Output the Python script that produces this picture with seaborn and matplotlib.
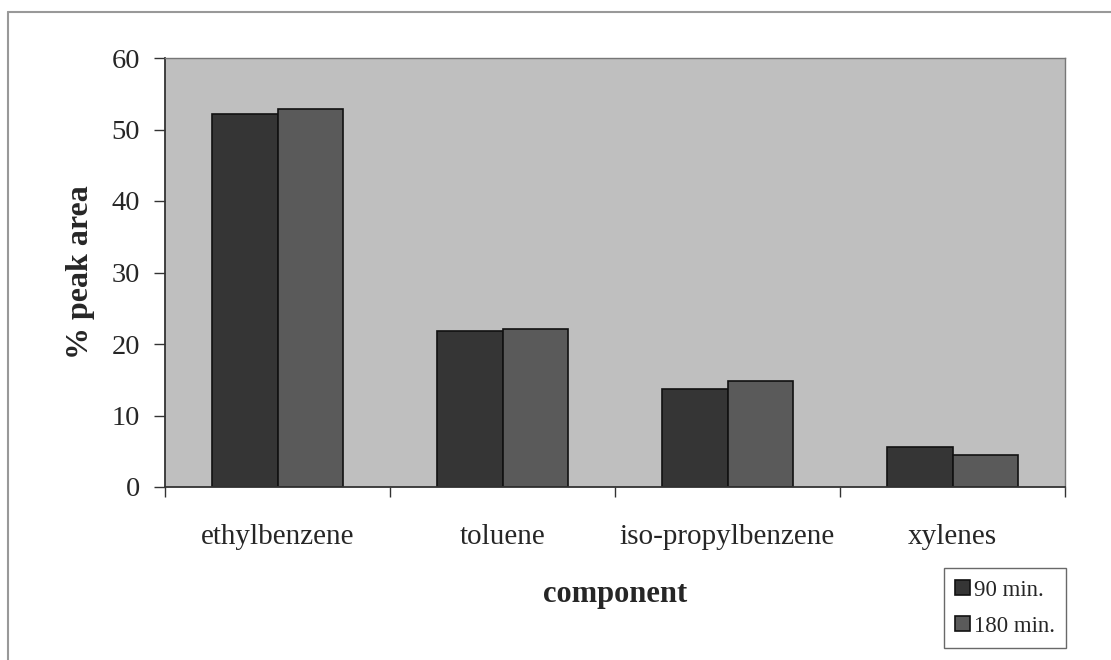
import matplotlib
matplotlib.use("Agg")
import matplotlib.pyplot as plt
import seaborn as sns
import pandas as pd
import numpy as np
from matplotlib.lines import Line2D

categories = ["ethylbenzene", "toluene", "iso-propylbenzene", "xylenes"]
series_names = ["90 min.", "180 min."]
values_90 = [52.2, 21.8, 13.7, 5.6]
values_180 = [52.9, 22.1, 14.8, 4.5]
y_ticks = [0, 10, 20, 30, 40, 50, 60]

df = pd.DataFrame({
    "component": categories * 2,
    "series": [series_names[0]] * len(categories) + [series_names[1]] * len(categories),
    "value": values_90 + values_180,
})

sns.set_theme(style="white")
plt.rcParams["font.family"] = ["Liberation Serif", "DejaVu Serif"]

fig = plt.figure(figsize=(11.11, 6.6), dpi=100)
ax = fig.add_axes([165 / 1111, 1 - 487 / 660, 900 / 1111, 429 / 660])
ax.set_facecolor("#bfbfbf")

palette = {"90 min.": "#353535", "180 min.": "#5a5a5a"}
sns.barplot(data=df, x="component", y="value", hue="series", order=categories,
            hue_order=series_names, palette=palette, width=0.58, dodge=True,
            edgecolor="#111111", linewidth=1.2, saturation=1, ax=ax, legend=True)

ax.set_xlim(-0.5, len(categories) - 0.5)
ax.set_ylim(0, 60)
ax.set_yticks(y_ticks)
ax.set_yticklabels([str(t) for t in y_ticks], fontsize=20.5)
ax.tick_params(axis="y", length=8, width=1, direction="out", pad=10, color="#333333", left=True)

ax.set_xticks(range(len(categories)))
ax.set_xticklabels(categories, fontsize=21)
ax.tick_params(axis="x", which="major", length=0, pad=27)
ax.set_xticks(np.arange(-0.5, len(categories), 1.0), minor=True)
ax.tick_params(axis="x", which="minor", length=7, width=1, direction="out", color="#333333", bottom=True)

ax.set_ylabel("% peak area", fontsize=23, fontweight="bold", labelpad=12)
ax.set_xlabel("component", fontsize=22, fontweight="bold", labelpad=21)

for side in ["left", "bottom"]:
    ax.spines[side].set_color("#333333")
    ax.spines[side].set_linewidth(1.3)
for side in ["top", "right"]:
    ax.spines[side].set_color("#777777")
    ax.spines[side].set_linewidth(1.0)

handles, labels = ax.get_legend_handles_labels()
ax.get_legend().remove()
leg = fig.legend(handles, labels, loc="lower right",
                 bbox_to_anchor=(1066 / 1111, 1 - 648 / 660),
                 borderaxespad=0,
                 fontsize=16.5, frameon=True, fancybox=False, edgecolor="#444444",
                 handlelength=0.65, handleheight=0.65, handletextpad=0.15,
                 labelspacing=0.65, borderpad=0.5)
leg.get_frame().set_linewidth(1.0)

# outer chart border (top and left visible)
fig.add_artist(Line2D([8 / 1111, 1.0], [1 - 12 / 660, 1 - 12 / 660],
                      transform=fig.transFigure, color="#999999", linewidth=1.5))
fig.add_artist(Line2D([8 / 1111, 8 / 1111], [0.0, 1 - 12 / 660],
                      transform=fig.transFigure, color="#999999", linewidth=1.5))

fig.savefig("out.png", dpi=100, facecolor="white")
